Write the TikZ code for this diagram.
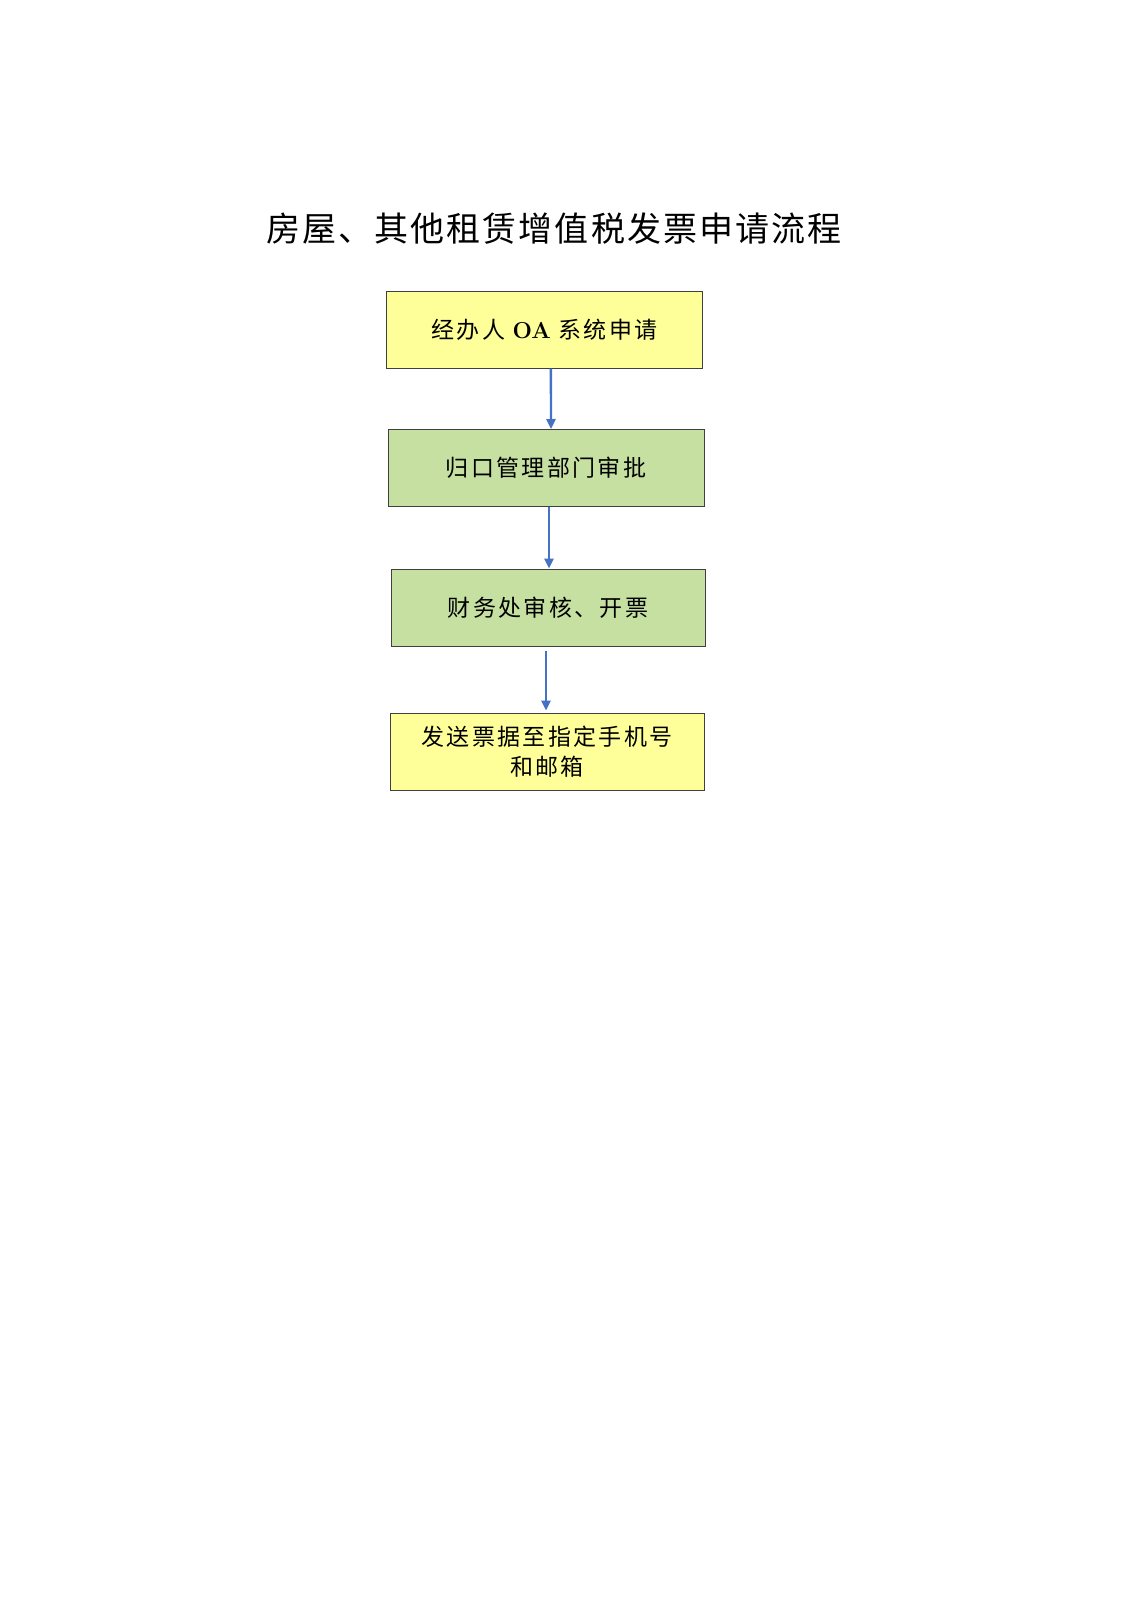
\documentclass[tikz,border=0pt]{standalone}
\usepackage{fontspec}
\newfontfamily\cjk[LetterSpace=10]{Noto Sans CJK SC}
\newfontfamily\cjktitle[LetterSpace=6]{Noto Sans CJK SC}
\usepackage{tikz}
\usetikzlibrary{arrows.meta,positioning,calc}
\definecolor{boxyellow}{HTML}{FFFF99}
\definecolor{boxgreen}{HTML}{C6E0A2}
\definecolor{flowblue}{HTML}{4472C4}
\tikzset{
  stepbox/.style={draw=black!75,line width=0.5pt,minimum width=158pt,minimum height=38.5pt,
    align=center,font=\cjk\fontsize{11.5}{15}\selectfont},
  flow/.style={flowblue,line width=1.2pt,-{Triangle[length=5pt,width=4.5pt]}}
}
\begin{document}
\begin{tikzpicture}[x=0.5pt,y=-0.5pt]
\useasboundingbox (0,0) rectangle (1131,1600);
\node (title) at (554,229) {\cjktitle\fontsize{17}{20}\selectfont 房屋、其他租赁增值税发票申请流程};
\node[stepbox,fill=boxyellow] (apply) at (544.5,329.5) {经办人 {\rmfamily\bfseries OA} 系统申请};
\node[stepbox,fill=boxgreen] (dept) at (546,468) {归口管理部门审批};
\node[stepbox,fill=boxgreen,minimum width=157pt] (finance) at (548,607.5) {财务处审核、开票};
\node[stepbox,fill=boxyellow,minimum width=157pt] (send) at (547,751.5) {发送票据至指定手机号\\和邮箱};
\draw[flow] ([xshift=3.2pt]apply.south) -- ([xshift=2.5pt]dept.north);
\draw[flow] ([xshift=1.5pt]dept.south) -- ([xshift=0.5pt]finance.north);
\draw[flow] ([xshift=-1pt,yshift=-2pt]finance.south) -- ([xshift=-0.5pt,yshift=1pt]send.north);
\end{tikzpicture}
\end{document}
